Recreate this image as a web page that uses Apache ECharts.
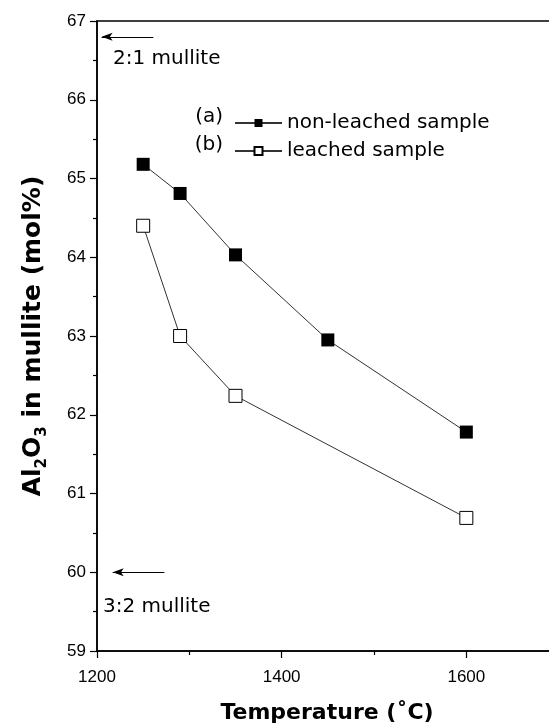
<!DOCTYPE html>
<html><head><meta charset="utf-8">
<script src="https://cdn.jsdelivr.net/npm/echarts@6/dist/echarts.min.js"></script>
<style>html,body{margin:0;padding:0;background:#fff}#c{width:549px;height:728px}</style>
</head><body><div id="c"></div>
<script>
// ---- data ----
const nonLeachedTemps = [1250, 1290, 1350, 1450, 1600];
const nonLeachedAl2O3 = [65.18, 64.81, 64.03, 62.95, 61.78];
const leachedTemps = [1250, 1290, 1350, 1600];
const leachedAl2O3 = [64.40, 63.00, 62.24, 60.69];
const xRange = [1200, 1800];   // 1700+ lies beyond the visible frame
const xStep = 200;
const yRange = [59, 67];
const yStep = 1;
const seriesNames = ['non-leached sample', 'leached sample'];
const seriesTags = ['(a)', '(b)'];
// reference arrows (start -> arrow tip) in data units
const arrow21 = [[1261, 66.8], [1205, 66.8]];
const arrow32 = [[1273, 60.0], [1217, 60.0]];
const refLabels = ['2:1 mullite', '3:2 mullite'];

const chart = echarts.init(document.getElementById('c'), null, {renderer: 'canvas'});
const FONT = 'DejaVu Sans';
const TICKFONT = 'Liberation Sans';

const pts = (xs, ys) => xs.map((x, i) => [x, ys[i]]);

const option = {
  animation: false,
  backgroundColor: '#fff',
  grid: {left: 97, top: 21, width: 554, height: 630, containLabel: false, outerBoundsMode: 'none',
         show: true, borderColor: '#000', borderWidth: 1.5, backgroundColor: 'transparent'},
  xAxis: {
    type: 'value', min: xRange[0], max: xRange[1], interval: xStep,
    name: 'Temperature (˚C)', nameLocation: 'middle', nameGap: 51,
    nameTextStyle: {fontFamily: FONT, fontWeight: 'bold', fontSize: 22, color: '#000', padding: [0, 94, 0, 0]},
    axisLine: {show: true, onZero: false, lineStyle: {color: '#000', width: 1.5}},
    axisTick: {show: true, inside: false, length: 7, lineStyle: {color: '#000', width: 1.2}},
    minorTick: {show: true, splitNumber: 2, length: 4, lineStyle: {color: '#000', width: 1.2}},
    axisLabel: {fontFamily: TICKFONT, fontSize: 17, color: '#000', margin: 18, showMaxLabel: false,
                formatter: v => String(v)},
    splitLine: {show: false}, minorSplitLine: {show: false}
  },
  yAxis: {
    type: 'value', min: yRange[0], max: yRange[1], interval: yStep,
    name: '{b|Al}{s|2}{b|O}{s|3}{b| in mullite (mol%)}', nameLocation: 'middle', nameGap: 47, nameRotate: 90,
    nameTextStyle: {
      color: '#000',
      rich: {
        b: {fontFamily: FONT, fontWeight: 'bold', fontSize: 25, lineHeight: 34, verticalAlign: 'middle', color: '#000'},
        s: {fontFamily: FONT, fontWeight: 'bold', fontSize: 15, lineHeight: 15, verticalAlign: 'bottom', color: '#000'}
      }
    },
    axisLine: {show: true, onZero: false, lineStyle: {color: '#000', width: 1.5}},
    axisTick: {show: true, inside: false, length: 7, lineStyle: {color: '#000', width: 1.2}},
    minorTick: {show: true, splitNumber: 2, length: 4, lineStyle: {color: '#000', width: 1.2}},
    axisLabel: {fontFamily: TICKFONT, fontSize: 17, color: '#000', margin: 11, formatter: v => String(v)},
    splitLine: {show: false}, minorSplitLine: {show: false}
  },
  legend: {
    data: seriesNames, orient: 'vertical', left: 229, top: 108,
    itemWidth: 47, itemHeight: 10, itemGap: 8,
    textStyle: {fontFamily: FONT, fontSize: 20, color: '#000', lineHeight: 20},
    selectedMode: false
  },
  series: [
    {
      name: seriesNames[0], type: 'line', data: pts(nonLeachedTemps, nonLeachedAl2O3),
      symbol: 'rect', symbolSize: 13,
      itemStyle: {color: '#000', borderColor: '#000', borderWidth: 0},
      lineStyle: {color: '#333', width: 1},
      z: 3,
      markLine: {
        silent: true, symbol: ['none', 'arrow'], symbolSize: [6, 11],
        label: {show: false},
        lineStyle: {color: '#000', width: 1, type: 'solid'},
        data: [
          [{coord: arrow21[0]}, {coord: arrow21[1]}],
          [{coord: arrow32[0]}, {coord: arrow32[1]}]
        ]
      }
    },
    {
      name: seriesNames[1], type: 'line', data: pts(leachedTemps, leachedAl2O3),
      symbol: 'rect', symbolSize: 13,
      itemStyle: {color: '#fff', borderColor: '#000', borderWidth: 1},
      lineStyle: {color: '#333', width: 1},
      z: 3
    }
  ],
  graphic: [
    {type: 'text', left: 113, top: 49, style: {text: refLabels[0], font: '20px "DejaVu Sans"', fill: '#000'}},
    {type: 'text', left: 103, top: 597, style: {text: refLabels[1], font: '20px "DejaVu Sans"', fill: '#000'}},
    {type: 'text', right: 549 - 223, top: 107, style: {text: seriesTags[0], font: '20px "DejaVu Sans"', fill: '#000'}},
    {type: 'text', right: 549 - 223, top: 135, style: {text: seriesTags[1], font: '20px "DejaVu Sans"', fill: '#000'}}
  ]
};
chart.setOption(option);
</script>
</body></html>
